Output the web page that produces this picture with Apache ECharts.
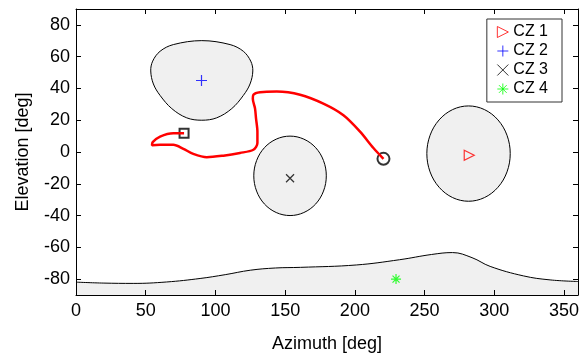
<html>
<head>
<meta charset="utf-8">
<script src="https://cdn.jsdelivr.net/npm/echarts@6/dist/echarts.min.js"></script>
</head>
<body style="margin:0">
<div id="main" style="width:587px;height:358px"></div>
<script type="text/javascript">
// zone names and marker positions
var czNames = ['CZ 1', 'CZ 2', 'CZ 3', 'CZ 4'];
var czAz = [282, 90, 153.5, 229.5];
var czEl = [-2, 45, -16.5, -80];

// closed zone outlines [az, el]
var cz1Edge = [[311.4, -1], [309.1, 10.5], [302.6, 20.2], [292.9, 26.7], [281.5, 29], [270.1, 26.7],
    [260.4, 20.2], [253.9, 10.5], [251.6, -1], [253.9, -12.5], [260.4, -22.2], [270.1, -28.7],
    [281.5, -31], [292.9, -28.7], [302.6, -22.2], [309.1, -12.5]];
var cz2Edge = [[90.2, 70.1], [69.8, 67.6], [60.3, 63.4], [55, 57.2], [53.6, 51], [55.5, 42.8],
    [60.3, 35.6], [68.7, 27.3], [79.4, 21.5], [90.2, 20], [100.9, 21.5], [111.7, 27.3], [120, 35.6],
    [124.8, 42.8], [126.8, 51], [125.3, 57.2], [120, 63.4], [110.5, 67.6]];
var cz3Edge = [[179.5, -15], [177.5, -5.4], [171.9, 2.7], [163.4, 8.1], [153.5, 10], [143.6, 8.1],
    [135.1, 2.7], [129.5, -5.4], [127.5, -15], [129.5, -24.6], [135.1, -32.7], [143.6, -38.1],
    [153.5, -40], [163.4, -38.1], [171.9, -32.7], [177.5, -24.6]];

// lower zone upper boundary
var cz4Az = [0, 20, 41, 65, 89, 107, 125, 143, 161, 201, 232, 255, 270, 284, 297, 321, 340, 360];
var cz4El = [-81.9, -82.5, -82.7, -81.8, -79.6, -77.2, -74.4, -73, -72.6, -71.1, -67.8, -64.5, -63.3,
    -66.5, -72, -78, -80.5, -81.5];

// red path
var trackAz = [77.5, 69.8, 60.3, 55, 54.5, 60.3, 69.8, 77, 84.1, 93.8, 105.7, 117.6, 127.2, 130.1,
    130.1, 129.1, 128.4, 126.8, 127.2, 132, 144, 160.7, 177.4, 191.8, 203.7, 213.3, 220.5];
var trackEl = [11.8, 11.8, 9.7, 6.2, 4.2, 4.5, 4.5, 2, -1.2, -3.3, -2.3, -0.6, 1.4, 5.6,
    12.8, 21.1, 27.3, 33.5, 36, 37.6, 38, 36, 30.4, 23.1, 12.8, 2.5, -4.3];

var xTicks = [0, 50, 100, 150, 200, 250, 300, 350];
var yTicks = [-80, -60, -40, -20, 0, 20, 40, 60, 80];

var myChart = echarts.init(document.getElementById('main'));
var font = 'Liberation Sans';

function zone(edge) {
    return {
        type: 'custom',
        clip: true,
        z: 1,
        data: [[edge[0][0], edge[0][1]]],
        renderItem: function (params, api) {
            var pts = edge.map(function (p) { return api.coord(p); });
            return {
                type: 'polygon',
                shape: { points: pts, smooth: 0.35 },
                style: { fill: '#f0f0f0', stroke: '#000', lineWidth: 1 }
            };
        }
    };
}

function pairs(a, b) {
    return a.map(function (v, i) { return [v, b[i]]; });
}

var markStyles = [
    { symbol: 'path://M0 0L10 5L0 10Z', size: 10, color: '#ff0000' },
    { symbol: 'path://M0 5L10 5M5 0L5 10', size: 11, color: '#0000ff' },
    { symbol: 'path://M0 0L10 10M0 10L10 0', size: 8, color: '#000000' },
    { symbol: 'path://M0 5L10 5M5 0L5 10M1.5 1.5L8.5 8.5M1.5 8.5L8.5 1.5', size: 10, color: '#00ff00' }
];

var series = [
    zone(cz1Edge), zone(cz2Edge), zone(cz3Edge),
    {
        type: 'line',
        data: pairs(cz4Az, cz4El),
        smooth: 0.4,
        symbol: 'none',
        z: 1,
        lineStyle: { color: '#000', width: 1 },
        areaStyle: { color: '#f0f0f0', opacity: 1, origin: 'start' }
    },
    {
        type: 'line',
        data: pairs(trackAz, trackEl),
        smooth: 0.3,
        symbol: 'none',
        lineStyle: { color: '#ff0000', width: 2.5 }
    },
    {
        type: 'scatter',
        data: [[trackAz[0], trackEl[0]]],
        symbol: 'rect',
        symbolSize: 9,
        itemStyle: { color: 'none', borderColor: '#000', borderWidth: 2 }
    },
    {
        type: 'scatter',
        data: [[trackAz[trackAz.length - 1], trackEl[trackEl.length - 1]]],
        symbol: 'circle',
        symbolSize: 12,
        itemStyle: { color: 'none', borderColor: '#000', borderWidth: 2 }
    }
];

czNames.forEach(function (name, i) {
    var m = markStyles[i];
    series.push({
        type: 'scatter',
        name: name,
        data: [[czAz[i], czEl[i]]],
        symbol: m.symbol,
        symbolSize: m.size,
        z: 5,
        itemStyle: { color: 'none', borderColor: m.color, borderWidth: 1.2 }
    });
});

var option = {
    animation: false,
    grid: { left: 76, right: 9, top: 9, bottom: 59 },
    legend: {
        data: czNames,
        orient: 'vertical',
        right: 25,
        top: 19,
        padding: [5, 14, 5, 8],
        itemGap: 3,
        itemWidth: 11,
        itemHeight: 11,
        itemTextGap: 9,
        borderColor: '#333',
        borderWidth: 1,
        backgroundColor: '#fff',
        itemStyle: { borderWidth: 1 },
        textStyle: { fontFamily: font, fontSize: 16, color: '#000' }
    },
    xAxis: [{
        type: 'value', min: 0, max: 360, z: 10,
        name: 'Azimuth [deg]', nameLocation: 'middle', nameGap: 40,
        nameTextStyle: { fontFamily: font, fontSize: 18, color: '#000' },
        axisLine: { onZero: false, lineStyle: { color: '#000' } },
        axisTick: { inside: true, length: 5, customValues: xTicks, lineStyle: { color: '#000' } },
        axisLabel: { customValues: xTicks, margin: 7, fontFamily: font, fontSize: 18, color: '#000' },
        splitLine: { show: false }
    }, {
        type: 'value', min: 0, max: 360, position: 'top', z: 10,
        axisLine: { show: true, onZero: false, lineStyle: { color: '#000' } },
        axisTick: { inside: true, length: 5, customValues: xTicks, lineStyle: { color: '#000' } },
        axisLabel: { show: false },
        splitLine: { show: false }
    }],
    yAxis: [{
        type: 'value', min: -90, max: 90, z: 10,
        name: 'Elevation [deg]', nameLocation: 'middle', nameGap: 44,
        nameTextStyle: { fontFamily: font, fontSize: 18, color: '#000' },
        axisLine: { show: true, onZero: false, lineStyle: { color: '#000' } },
        axisTick: { show: true, inside: true, length: 5, customValues: yTicks, lineStyle: { color: '#000' } },
        axisLabel: { customValues: yTicks, margin: 6, fontFamily: font, fontSize: 18, color: '#000' },
        splitLine: { show: false }
    }, {
        type: 'value', min: -90, max: 90, position: 'right', z: 10,
        axisLine: { show: true, onZero: false, lineStyle: { color: '#000' } },
        axisTick: { show: true, inside: true, length: 5, customValues: yTicks, lineStyle: { color: '#000' } },
        axisLabel: { show: false },
        splitLine: { show: false }
    }],
    series: series
};

myChart.setOption(option);
</script>
</body>
</html>
